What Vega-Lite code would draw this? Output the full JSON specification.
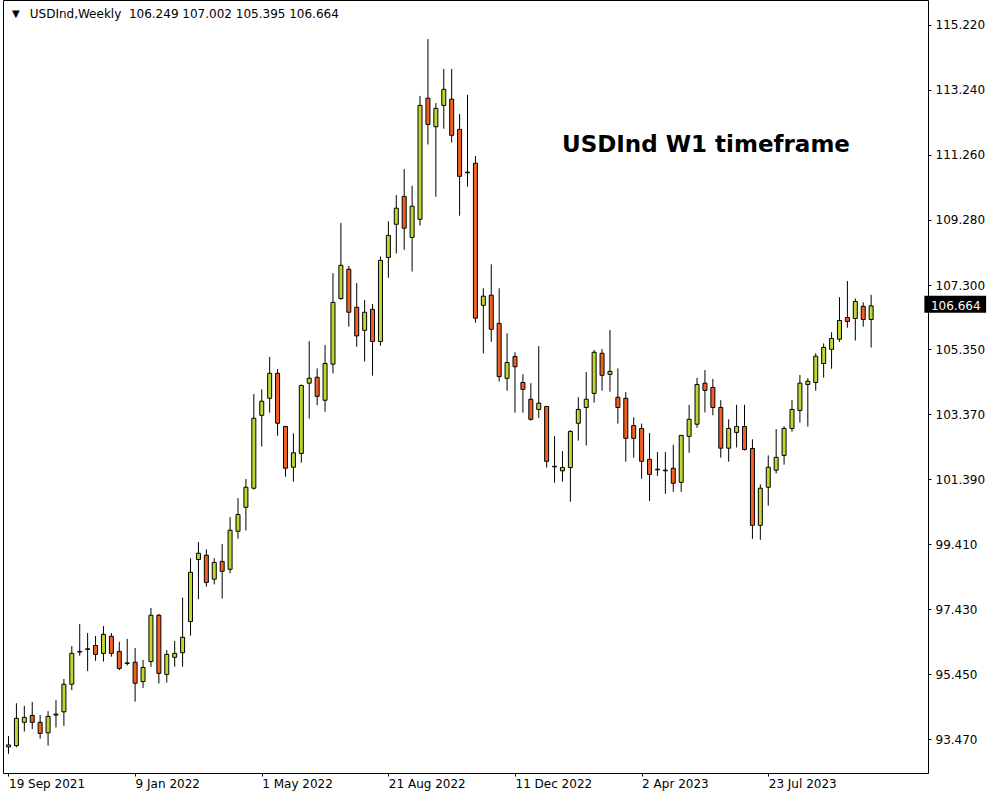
{
"$schema":"https://vega.github.io/schema/vega-lite/v6.json",
"width":925,"height":773,
"autosize":{"type":"none"},
"padding":{"left":3,"top":0,"right":72,"bottom":27},
"background":"white",
"config":{"view":{"stroke":"black","strokeWidth":1},"font":"DejaVu Sans"},
"data":{"values":[
{"date":"2021-09-19","open":93.23,"high":93.56,"low":93.02,"close":93.29},
{"date":"2021-09-26","open":93.27,"high":94.56,"low":93.22,"close":94.10},
{"date":"2021-10-03","open":93.98,"high":94.48,"low":93.70,"close":94.13},
{"date":"2021-10-10","open":94.19,"high":94.60,"low":93.77,"close":93.98},
{"date":"2021-10-17","open":93.98,"high":94.20,"low":93.48,"close":93.64},
{"date":"2021-10-24","open":93.66,"high":94.32,"low":93.27,"close":94.16},
{"date":"2021-10-31","open":94.20,"high":94.66,"low":93.82,"close":94.23},
{"date":"2021-11-07","open":94.30,"high":95.30,"low":93.87,"close":95.14},
{"date":"2021-11-14","open":95.14,"high":96.30,"low":94.96,"close":96.08},
{"date":"2021-11-21","open":96.12,"high":96.97,"low":96.01,"close":96.14},
{"date":"2021-11-28","open":96.20,"high":96.70,"low":95.54,"close":96.22},
{"date":"2021-12-05","open":96.32,"high":96.61,"low":95.85,"close":96.05},
{"date":"2021-12-12","open":96.08,"high":96.91,"low":95.83,"close":96.66},
{"date":"2021-12-19","open":96.60,"high":96.70,"low":95.98,"close":96.08},
{"date":"2021-12-26","open":96.14,"high":96.43,"low":95.57,"close":95.62},
{"date":"2022-01-02","open":95.77,"high":96.52,"low":95.71,"close":95.79},
{"date":"2022-01-09","open":95.81,"high":96.24,"low":94.61,"close":95.17},
{"date":"2022-01-16","open":95.22,"high":95.88,"low":95.03,"close":95.65},
{"date":"2022-01-23","open":95.83,"high":97.46,"low":95.67,"close":97.24},
{"date":"2022-01-30","open":97.24,"high":97.28,"low":95.16,"close":95.47},
{"date":"2022-02-06","open":95.44,"high":96.18,"low":95.19,"close":96.05},
{"date":"2022-02-13","open":95.96,"high":96.46,"low":95.67,"close":96.08},
{"date":"2022-02-20","open":96.10,"high":97.78,"low":95.67,"close":96.57},
{"date":"2022-02-27","open":97.05,"high":98.98,"low":96.62,"close":98.55},
{"date":"2022-03-06","open":98.94,"high":99.47,"low":97.73,"close":99.13},
{"date":"2022-03-13","open":99.07,"high":99.25,"low":98.11,"close":98.24},
{"date":"2022-03-20","open":98.34,"high":98.98,"low":98.18,"close":98.85},
{"date":"2022-03-27","open":98.88,"high":99.41,"low":97.75,"close":98.58},
{"date":"2022-04-03","open":98.64,"high":100.23,"low":98.52,"close":99.83},
{"date":"2022-04-10","open":99.80,"high":100.81,"low":99.57,"close":100.31},
{"date":"2022-04-17","open":100.53,"high":101.39,"low":99.82,"close":101.14},
{"date":"2022-04-24","open":101.11,"high":103.98,"low":101.07,"close":103.24},
{"date":"2022-05-01","open":103.33,"high":104.12,"low":102.38,"close":103.76},
{"date":"2022-05-08","open":103.85,"high":105.11,"low":103.41,"close":104.61},
{"date":"2022-05-15","open":104.61,"high":104.74,"low":102.71,"close":103.09},
{"date":"2022-05-22","open":102.99,"high":103.00,"low":101.46,"close":101.72},
{"date":"2022-05-29","open":101.75,"high":102.78,"low":101.31,"close":102.19},
{"date":"2022-06-05","open":102.17,"high":104.27,"low":101.89,"close":104.24},
{"date":"2022-06-12","open":104.31,"high":105.59,"low":103.23,"close":104.46},
{"date":"2022-06-19","open":104.49,"high":104.76,"low":103.64,"close":103.91},
{"date":"2022-06-26","open":103.79,"high":105.47,"low":103.44,"close":104.91},
{"date":"2022-07-03","open":104.89,"high":107.66,"low":104.61,"close":106.77},
{"date":"2022-07-10","open":106.89,"high":109.19,"low":106.85,"close":107.90},
{"date":"2022-07-17","open":107.78,"high":107.88,"low":106.03,"close":106.47},
{"date":"2022-07-24","open":106.62,"high":107.36,"low":105.42,"close":105.75},
{"date":"2022-07-31","open":105.92,"high":106.84,"low":104.97,"close":106.47},
{"date":"2022-08-07","open":106.56,"high":106.72,"low":104.54,"close":105.58},
{"date":"2022-08-14","open":105.58,"high":108.17,"low":105.45,"close":108.05},
{"date":"2022-08-21","open":108.14,"high":109.24,"low":107.52,"close":108.81},
{"date":"2022-08-28","open":109.15,"high":110.04,"low":108.26,"close":109.64},
{"date":"2022-09-04","open":110.00,"high":110.83,"low":108.37,"close":109.03},
{"date":"2022-09-11","open":108.75,"high":110.32,"low":107.71,"close":109.70},
{"date":"2022-09-18","open":109.30,"high":113.06,"low":109.11,"close":112.77},
{"date":"2022-09-25","open":112.99,"high":114.79,"low":111.58,"close":112.19},
{"date":"2022-10-02","open":112.12,"high":112.84,"low":109.99,"close":112.68},
{"date":"2022-10-09","open":112.77,"high":113.88,"low":112.06,"close":113.26},
{"date":"2022-10-16","open":112.96,"high":113.88,"low":111.64,"close":111.86},
{"date":"2022-10-23","open":112.04,"high":112.51,"low":109.41,"close":110.61},
{"date":"2022-10-30","open":110.72,"high":113.09,"low":110.30,"close":110.74},
{"date":"2022-11-06","open":111.01,"high":111.23,"low":106.15,"close":106.29},
{"date":"2022-11-13","open":106.68,"high":107.20,"low":105.22,"close":106.96},
{"date":"2022-11-20","open":106.99,"high":107.93,"low":105.57,"close":105.95},
{"date":"2022-11-27","open":106.13,"high":107.20,"low":104.36,"close":104.51},
{"date":"2022-12-04","open":104.46,"high":105.83,"low":104.08,"close":104.94},
{"date":"2022-12-11","open":105.12,"high":105.25,"low":103.41,"close":104.81},
{"date":"2022-12-18","open":104.33,"high":104.58,"low":103.41,"close":104.12},
{"date":"2022-12-25","open":103.82,"high":104.31,"low":103.17,"close":103.21},
{"date":"2023-01-01","open":103.51,"high":105.44,"low":103.25,"close":103.70},
{"date":"2023-01-08","open":103.60,"high":103.61,"low":101.74,"close":101.93},
{"date":"2023-01-15","open":101.78,"high":102.70,"low":101.28,"close":101.76},
{"date":"2023-01-22","open":101.64,"high":102.24,"low":101.31,"close":101.74},
{"date":"2023-01-29","open":101.74,"high":102.88,"low":100.70,"close":102.84},
{"date":"2023-02-05","open":103.09,"high":103.88,"low":102.56,"close":103.51},
{"date":"2023-02-12","open":103.57,"high":104.65,"low":102.41,"close":103.82},
{"date":"2023-02-19","open":104.00,"high":105.32,"low":103.72,"close":105.25},
{"date":"2023-02-26","open":105.22,"high":105.35,"low":104.08,"close":104.55},
{"date":"2023-03-05","open":104.58,"high":105.93,"low":104.05,"close":104.67},
{"date":"2023-03-12","open":103.88,"high":104.76,"low":103.08,"close":103.57},
{"date":"2023-03-19","open":103.85,"high":104.04,"low":101.92,"close":102.63},
{"date":"2023-03-26","open":103.02,"high":103.27,"low":102.04,"close":102.63},
{"date":"2023-04-02","open":102.93,"high":103.08,"low":101.40,"close":101.93},
{"date":"2023-04-09","open":101.99,"high":102.79,"low":100.72,"close":101.53},
{"date":"2023-04-16","open":101.69,"high":102.21,"low":101.49,"close":101.67},
{"date":"2023-04-23","open":101.66,"high":102.21,"low":100.94,"close":101.64},
{"date":"2023-04-30","open":101.72,"high":102.43,"low":101.00,"close":101.26},
{"date":"2023-05-07","open":101.29,"high":102.72,"low":101.00,"close":102.72},
{"date":"2023-05-14","open":102.69,"high":103.65,"low":102.19,"close":103.21},
{"date":"2023-05-21","open":103.06,"high":104.47,"low":102.95,"close":104.27},
{"date":"2023-05-28","open":104.31,"high":104.71,"low":103.42,"close":104.09},
{"date":"2023-06-04","open":104.18,"high":104.44,"low":103.33,"close":103.57},
{"date":"2023-06-11","open":103.57,"high":103.79,"low":102.04,"close":102.33},
{"date":"2023-06-18","open":102.33,"high":103.21,"low":101.92,"close":102.93},
{"date":"2023-06-25","open":102.81,"high":103.65,"low":102.35,"close":102.99},
{"date":"2023-07-02","open":102.99,"high":103.65,"low":102.26,"close":102.29},
{"date":"2023-07-09","open":102.32,"high":102.60,"low":99.57,"close":99.98},
{"date":"2023-07-16","open":99.98,"high":101.23,"low":99.54,"close":101.11},
{"date":"2023-07-23","open":101.14,"high":102.11,"low":100.58,"close":101.75},
{"date":"2023-07-30","open":101.66,"high":102.91,"low":101.56,"close":102.05},
{"date":"2023-08-06","open":102.11,"high":103.00,"low":101.83,"close":102.93},
{"date":"2023-08-13","open":102.93,"high":103.80,"low":102.83,"close":103.51},
{"date":"2023-08-20","open":103.48,"high":104.56,"low":103.11,"close":104.31},
{"date":"2023-08-27","open":104.27,"high":104.46,"low":102.99,"close":104.37},
{"date":"2023-09-03","open":104.33,"high":105.22,"low":104.08,"close":105.13},
{"date":"2023-09-10","open":104.91,"high":105.52,"low":104.48,"close":105.40},
{"date":"2023-09-17","open":105.34,"high":105.86,"low":104.75,"close":105.67},
{"date":"2023-09-24","open":105.65,"high":106.93,"low":105.57,"close":106.22},
{"date":"2023-10-01","open":106.31,"high":107.42,"low":106.00,"close":106.19},
{"date":"2023-10-08","open":106.28,"high":106.89,"low":105.61,"close":106.80},
{"date":"2023-10-15","open":106.65,"high":106.77,"low":106.03,"close":106.25},
{"date":"2023-10-22","open":106.249,"high":107.002,"low":105.395,"close":106.664}
]},
"layer":[
{"mark":{"type":"rule","color":"black","strokeWidth":1},
 "encoding":{
  "x":{"field":"date","type":"temporal",
   "scale":{"type":"utc","domain":[{"year":2021,"month":9,"date":18,"hours":13,"minutes":30,"utc":true},{"year":2023,"month":12,"date":6,"hours":21,"utc":true}]},
   "axis":{"title":null,"grid":false,"domain":false,"tickSize":3,"tickColor":"black","labelColor":"black","labelFont":"DejaVu Sans","labelFontSize":12,"labelAlign":"left","labelBaseline":"top","labelPadding":2,"labelFlush":false,"labelOverlap":false,
    "labelExpr":"utcFormat(datum.value, '%-d %b %Y')",
    "values":[{"year":2021,"month":9,"date":19,"utc":true},{"year":2022,"month":1,"date":9,"utc":true},{"year":2022,"month":5,"date":1,"utc":true},{"year":2022,"month":8,"date":21,"utc":true},{"year":2022,"month":12,"date":11,"utc":true},{"year":2023,"month":4,"date":2,"utc":true},{"year":2023,"month":7,"date":23,"utc":true}]}},
  "y":{"field":"low","type":"quantitative",
   "scale":{"domain":[92.436,115.981],"zero":false,"nice":false},
   "axis":{"orient":"right","title":null,"grid":false,"domain":false,"tickSize":3,"tickColor":"black","labelColor":"black","labelFont":"DejaVu Sans","labelFontSize":12,"labelPadding":4,"labelBaseline":"middle","labelOverlap":false,"format":".3f",
    "values":[93.47,95.45,97.43,99.41,101.39,103.37,105.35,107.30,109.28,111.26,113.24,115.22]}},
  "y2":{"field":"high"}}},
{"mark":{"type":"bar","width":4,"stroke":"black","strokeWidth":1},
 "encoding":{
  "x":{"field":"date","type":"temporal"},
  "y":{"field":"open","type":"quantitative"},
  "y2":{"field":"close"},
  "fill":{"condition":{"test":"datum.close >= datum.open","value":"#c0d72f"},"value":"#f26122"}}},
{"data":{"values":[{"label":"▼"}]},
 "mark":{"type":"text","fontSize":10,"align":"center","baseline":"middle","color":"black","font":"DejaVu Sans"},
 "encoding":{
  "x":{"datum":{"year":2021,"month":9,"date":25,"hours":13,"utc":true},"type":"temporal"},
  "y":{"datum":115.555,"type":"quantitative"},
  "text":{"field":"label"}}},
{"data":{"values":[{"label":"USDInd,Weekly\u00a0 106.249 107.002 105.395 106.664"}]},
 "mark":{"type":"text","fontSize":12,"align":"left","baseline":"middle","color":"black","font":"DejaVu Sans"},
 "encoding":{
  "x":{"datum":{"year":2021,"month":10,"date":7,"hours":19,"utc":true},"type":"temporal"},
  "y":{"datum":115.555,"type":"quantitative"},
  "text":{"field":"label"}}},
{"data":{"values":[{"label":"USDInd W1 timeframe"}]},
 "mark":{"type":"text","fontSize":23,"fontWeight":"bold","align":"left","baseline":"middle","color":"black","font":"DejaVu Sans"},
 "encoding":{
  "x":{"datum":{"year":2023,"month":1,"date":21,"hours":13,"utc":true},"type":"temporal"},
  "y":{"datum":111.565,"type":"quantitative"},
  "text":{"field":"label"}}},
{"data":{"values":[{"label":"106.664"}]},
 "mark":{"type":"rect","color":"black"},
 "encoding":{
  "x":{"datum":{"year":2023,"month":12,"date":8,"hours":2,"utc":true},"type":"temporal"},
  "x2":{"datum":{"year":2024,"month":1,"date":31,"hours":17,"utc":true}},
  "y":{"datum":106.975,"type":"quantitative"},
  "y2":{"datum":106.457}}},
{"data":{"values":[{"label":"106.664"}]},
 "mark":{"type":"text","fontSize":12,"align":"left","baseline":"middle","color":"white","font":"DejaVu Sans"},
 "encoding":{
  "x":{"datum":{"year":2023,"month":12,"date":13,"hours":22,"utc":true},"type":"temporal"},
  "y":{"datum":106.664,"type":"quantitative"},
  "text":{"field":"label"}}}
]
}
